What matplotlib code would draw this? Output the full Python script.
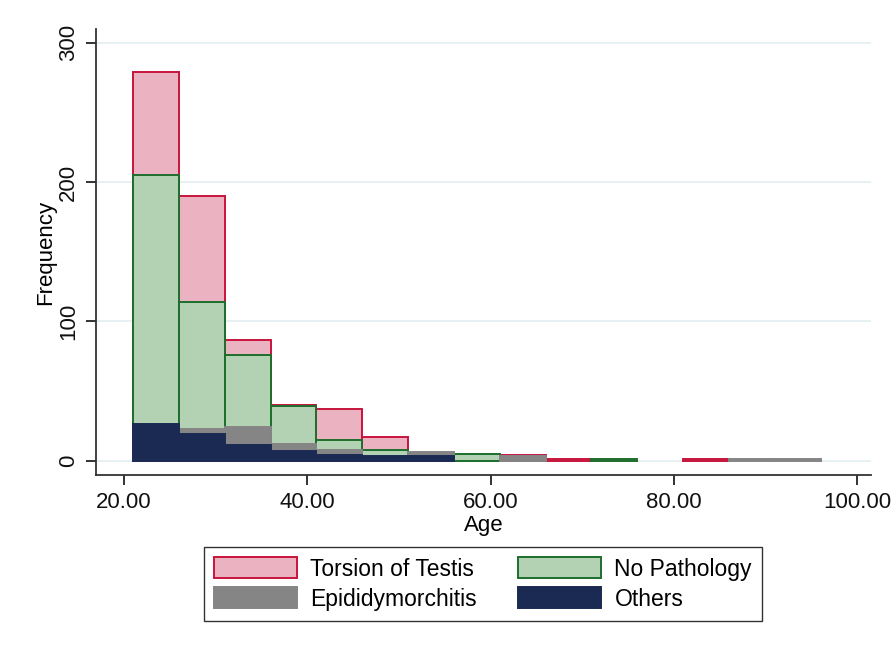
import matplotlib
matplotlib.use("Agg")
import matplotlib.pyplot as plt
import numpy as np
from matplotlib.patches import Patch

plt.rcParams['font.family'] = ['Liberation Sans', 'DejaVu Sans']

# Histogram bins (age), width 5 starting at 21
bin_edges = [21, 26, 31, 36, 41, 46, 51, 56, 61, 66, 71, 76, 81, 86, 91, 96]

torsion   = [279, 190, 87, 40, 37, 17, 0, 0, 4, 1, 0, 0, 1, 0, 0]
no_path   = [205, 114, 76, 39, 15, 8, 0, 5, 0, 0, 1, 0, 0, 0, 0]
epid      = [18, 23, 24, 12, 8, 2, 6, 0, 3, 0, 0, 0, 0, 1, 1]
others    = [26, 19, 11, 7, 4, 3, 3, 0, 0, 0, 0, 0, 0, 0, 0]

series_names = ["Torsion of Testis", "No Pathology", "Epididymorchitis", "Others"]
fills  = ["#ebb3c1", "#b3d2b3", "#858585", "#1b2a52"]
edges  = ["#c8143c", "#1d6e2c", "#858585", "#1b2a52"]

x_ticks = [20, 40, 60, 80, 100]
x_ticklabels = ["20.00", "40.00", "60.00", "80.00", "100.00"]
y_ticks = [0, 100, 200, 300]

fig = plt.figure(figsize=(8.95, 6.5), dpi=100)
ax = fig.add_axes([96/895, 1-475/650, (871-96)/895, (475-29)/650])

left = np.array(bin_edges[:-1])
width = np.diff(bin_edges)
for vals, fc, ec in zip([torsion, no_path, epid, others], fills, edges):
    v = np.array(vals)
    m = v > 0
    ax.bar(left[m], v[m], width=width[m], align='edge', color=fc,
           edgecolor=ec, linewidth=1.4, zorder=3)

ax.set_xlim(16.95, 101.5)
ax.set_ylim(-10.3, 310)
ax.set_xticks(x_ticks)
ax.set_xticklabels(x_ticklabels)
ax.set_yticks(y_ticks)
ax.set_yticklabels([str(t) for t in y_ticks], rotation=90, va='center')
ax.tick_params(axis='both', direction='out', length=7, width=1.2,
               labelsize=16, colors='#111111')
ax.tick_params(axis='x', pad=5)
ax.tick_params(axis='y', pad=5)
for s in ['top', 'right']:
    ax.spines[s].set_visible(False)
for s in ['left', 'bottom']:
    ax.spines[s].set_color('#333333')
    ax.spines[s].set_linewidth(1.3)
ax.yaxis.grid(True, color='#e3eef0', linewidth=1.2, zorder=0)
ax.set_axisbelow(True)
ax.set_xlabel("Age", fontsize=16, labelpad=2)
ax.set_ylabel("Frequency", fontsize=16, labelpad=1.5)

handles = [Patch(facecolor=f, edgecolor=e, linewidth=1.4) for f, e in zip(fills, edges)]
order = [0, 2, 1, 3]
leg = fig.legend([handles[i] for i in order], [series_names[i] for i in order],
                 ncol=2, loc='center', bbox_to_anchor=(483/895, 1-584/650),
                 fontsize=16.5, frameon=True, fancybox=False, handlelength=3.6,
                 handleheight=1.0, handletextpad=0.6, columnspacing=1.8,
                 labelspacing=0.3, borderpad=0.45, edgecolor='black')
leg.get_frame().set_linewidth(1.0)

fig.savefig("out.png", dpi=100)
